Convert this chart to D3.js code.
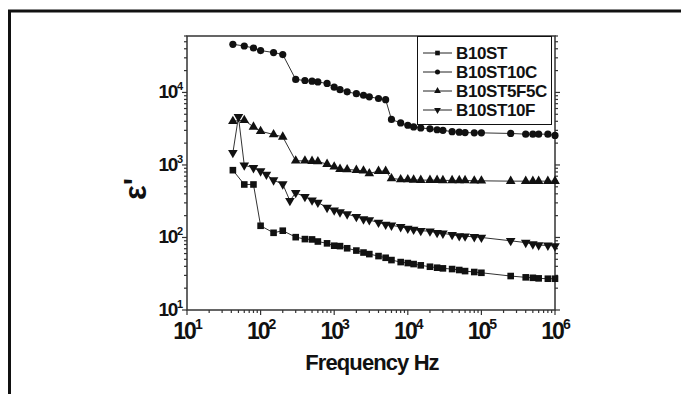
<!DOCTYPE html>
<html>
<head>
<meta charset="utf-8">
<script src="https://cdn.jsdelivr.net/npm/d3@7"></script>
<style>
  body { margin: 0; background: #fff; }
  svg { display: block; font-family: "Liberation Sans", Arial, sans-serif; font-weight: bold; }
</style>
</head>
<body>
<svg id="chart" width="681" height="394"></svg>
<script>
// frequencies (Hz) shared by B10ST, B10ST10C, B10ST5F5C
const freq = [42, 60, 80, 100, 150, 200, 300, 400, 500, 600, 800, 1e3, 1.2e3, 1.5e3, 2e3, 2.5e3, 3e3, 4e3, 5e3, 6e3, 8e3,
  1e4, 1.2e4, 1.5e4, 2e4, 2.5e4, 3e4, 4e4, 5e4, 6e4, 8e4, 1e5, 2.5e5, 4e5, 5e5, 6e5, 8e5, 1e6];
// B10ST10F has extra points at 50, 120 and 250 Hz
const freq10F = [42, 50, 60, 80, 100, 120, 150, 200, 250, 300, 400, 500, 600, 800, 1e3, 1.2e3, 1.5e3, 2e3, 2.5e3, 3e3, 4e3, 5e3, 6e3, 8e3,
  1e4, 1.2e4, 1.5e4, 2e4, 2.5e4, 3e4, 4e4, 5e4, 6e4, 8e4, 1e5, 2.5e5, 4e5, 5e5, 6e5, 8e5, 1e6];

const epsB10ST = [847, 538, 538, 145, 116, 124, 101, 95, 94, 88, 83, 77, 76, 71, 66, 62, 59, 55.4, 52.5, 48.8, 45.8,
  44.4, 43, 41.3, 39.5, 38.3, 37.5, 36.7, 35.6, 34.4, 33.4, 32.6, 29.4, 28.2, 27.8, 27.3, 27.0, 27.0];
const epsB10ST10C = [46100, 43700, 41000, 37800, 35500, 33300, 15100, 14600, 14300, 13950, 13300, 11800, 10900, 10200, 9600, 9150, 8700, 8250, 7950, 4240, 3800,
  3530, 3350, 3240, 3150, 3060, 3000, 2880, 2830, 2800, 2770, 2770, 2720, 2660, 2660, 2660, 2660, 2550];
const epsB10ST5F5C = [4010, 4140, 3350, 2920, 2630, 2440, 1140, 1140, 1130, 1117, 1026, 942, 875, 867, 848, 830, 764, 822, 822, 652, 631,
  631, 623, 618, 618, 618, 612, 612, 612, 612, 604, 604, 598, 598, 598, 598, 598, 598];
const epsB10ST10F = [1470, 4600, 993, 912, 822, 740, 618, 544, 321, 413, 364, 327, 304, 258, 238, 224, 210, 193, 179, 174, 161, 151, 147, 140,
  133, 129, 124, 122, 116, 114, 109, 105, 104, 102, 100, 90, 85, 81, 78.5, 77.8, 76];

const seriesNames = ['B10ST', 'B10ST10C', 'B10ST5F5C', 'B10ST10F'];
const xTicks = [1e1, 1e2, 1e3, 1e4, 1e5, 1e6];
const yTicks = [1e1, 1e2, 1e3, 1e4];

const series = [
  { name: seriesNames[0], f: freq, v: epsB10ST, sym: 'square' },
  { name: seriesNames[1], f: freq, v: epsB10ST10C, sym: 'circle' },
  { name: seriesNames[2], f: freq, v: epsB10ST5F5C, sym: 'up' },
  { name: seriesNames[3], f: freq10F, v: epsB10ST10F, sym: 'down' }
];

const svg = d3.select('#chart');
const pLeft = 187, pRight = 555, pTop = 36, pBottom = 310;

// outer frame (only top and left edges visible)
svg.append('path').attr('d', 'M9.5,394 V11 H681').attr('fill', 'none').attr('stroke', '#111').attr('stroke-width', 3);

const x = d3.scaleLog().domain([10, 1e6]).range([pLeft, pRight]);
const y = d3.scaleLog().domain([10, 6e4]).range([pBottom, pTop]);

// minor ticks
const minorX = [];
for (let d = 10; d < 1e6; d *= 10) for (let k = 2; k <= 9; k++) minorX.push(d * k);
const minorY = [];
for (let d = 10; d < 6e4; d *= 10) for (let k = 2; k <= 9; k++) if (d * k <= 6e4) minorY.push(d * k);

const axisColor = '#333';
const g = svg.append('g');

function xticks(vals, major) {
  const len = major ? 5 : 3;
  vals.forEach(v => {
    g.append('line').attr('x1', x(v)).attr('x2', x(v)).attr('y1', pBottom).attr('y2', pBottom + len)
      .attr('stroke', axisColor).attr('stroke-width', 1.2);
  });
}
xticks(minorX, false);
xticks(xTicks, true);

function yticks(vals, major) {
  const len = major ? 5 : 3;
  vals.forEach(v => {
    g.append('line').attr('x1', pLeft).attr('x2', pLeft - len).attr('y1', y(v)).attr('y2', y(v))
      .attr('stroke', axisColor).attr('stroke-width', 1.2);
    g.append('line').attr('x1', pRight).attr('x2', pRight + len).attr('y1', y(v)).attr('y2', y(v))
      .attr('stroke', axisColor).attr('stroke-width', 1.2);
  });
}
yticks(minorY, false);
yticks(yTicks, true);

// plot frame
g.append('rect').attr('x', pLeft).attr('y', pTop).attr('width', pRight - pLeft).attr('height', pBottom - pTop)
  .attr('fill', 'none').attr('stroke', axisColor).attr('stroke-width', 1.5);

// x tick labels
xTicks.forEach(v => {
  const t = g.append('text').attr('x', x(v) + 1).attr('y', pBottom + 29).attr('text-anchor', 'middle')
    .attr('font-size', 23).attr('letter-spacing', -2).attr('fill', '#111');
  t.append('tspan').text('10');
  t.append('tspan').attr('font-size', 14).attr('dy', -10).attr('letter-spacing', 0).text(Math.round(Math.log10(v)));
});

// y tick labels
yTicks.forEach(v => {
  const t = g.append('text').attr('x', pLeft - 4).attr('y', y(v) + 6).attr('text-anchor', 'end')
    .attr('font-size', 19).attr('letter-spacing', -1.4).attr('fill', '#111');
  t.append('tspan').text('10');
  t.append('tspan').attr('font-size', 11).attr('dy', -8).attr('letter-spacing', 0).text(Math.round(Math.log10(v)));
});

// axis titles
svg.append('text').attr('x', 372).attr('y', 370).attr('text-anchor', 'middle')
  .attr('font-size', 22).attr('letter-spacing', -0.9).attr('fill', '#111').text('Frequency Hz');
svg.append('text').attr('transform', 'translate(146,189) rotate(-90)').attr('text-anchor', 'middle')
  .attr('font-size', 31).attr('fill', '#111').text("ε'");

function marker(sel, sym, scale) {
  if (sym === 'circle') {
    sel.append('circle').attr('r', 3.6 * scale).attr('fill', '#111');
  } else if (sym === 'square') {
    const s = 6.6 * scale;
    sel.append('rect').attr('x', -s / 2).attr('y', -s / 2).attr('width', s).attr('height', s).attr('fill', '#111');
  } else {
    const p = d3.symbol().type(d3.symbolTriangle).size(40 * scale * scale)();
    sel.append('path').attr('d', p).attr('fill', '#111')
      .attr('transform', sym === 'down' ? 'rotate(180)' : null);
  }
}

const line = d3.line().x(d => x(d[0])).y(d => y(d[1]));

series.forEach(s => {
  const pts = s.f.map((f, i) => [f, s.v[i]]);
  svg.append('path').attr('d', line(pts)).attr('fill', 'none').attr('stroke', '#333').attr('stroke-width', 1);
  pts.forEach(p => {
    const m = svg.append('g').attr('transform', `translate(${x(p[0])},${y(p[1])})`);
    marker(m, s.sym, 1);
  });
});

// legend
const lg = svg.append('g');
lg.append('rect').attr('x', 417.5).attr('y', 36.5).attr('width', 134).attr('height', 88)
  .attr('fill', '#fff').attr('stroke', '#111').attr('stroke-width', 1);
series.forEach((s, i) => {
  const yy = 53 + i * 19;
  lg.append('line').attr('x1', 423).attr('x2', 452).attr('y1', yy).attr('y2', yy).attr('stroke', '#222').attr('stroke-width', 1);
  marker(lg.append('g').attr('transform', `translate(437.5,${yy})`), s.sym, 0.7);
  lg.append('text').attr('x', 456).attr('y', yy + 6).attr('font-size', 17).attr('letter-spacing', -0.4)
    .attr('fill', '#111').text(s.name);
});
</script>
</body>
</html>
